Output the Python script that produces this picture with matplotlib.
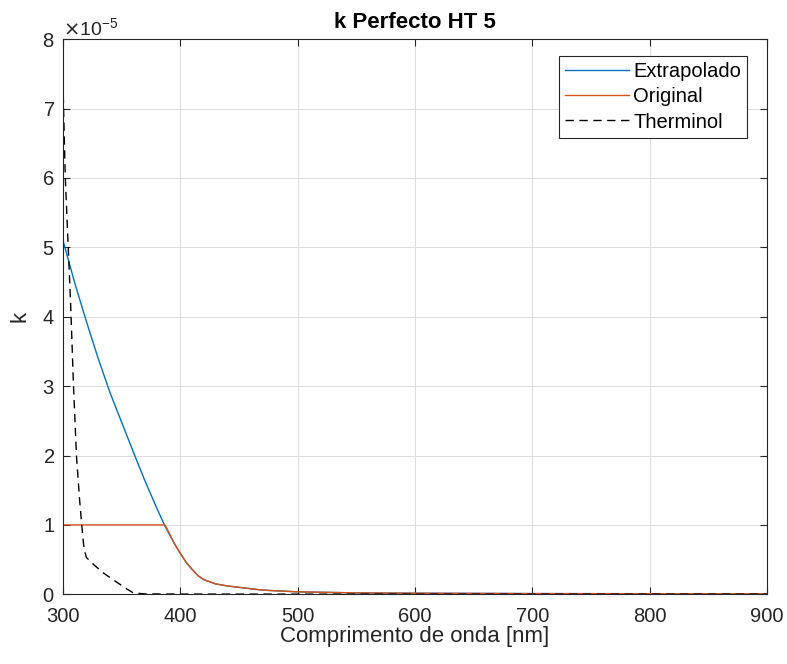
import numpy as np
import matplotlib.pyplot as plt

plt.rcParams['font.family'] = ['Liberation Sans', 'DejaVu Sans']

# wavelength [nm] and k (in units of 1e-5)
wl_ext = [300, 310, 320, 330, 340, 350, 360, 370, 380, 387, 395, 400, 405, 410,
          415, 420, 430, 440, 450, 470, 500, 550, 600, 700, 800, 900]
k_ext = [5.1, 4.49, 3.93, 3.40, 2.91, 2.48, 2.05, 1.63, 1.24, 0.98, 0.73, 0.59,
         0.46, 0.36, 0.27, 0.21, 0.15, 0.12, 0.10, 0.06, 0.035, 0.02, 0.015,
         0.01, 0.008, 0.006]

wl_orig = [300, 387, 395, 400, 405, 410, 415, 420, 430, 440, 450, 470, 500,
           550, 600, 700, 800, 900]
k_orig = [1.0, 1.0, 0.73, 0.59, 0.46, 0.36, 0.27, 0.21, 0.15, 0.12, 0.10,
          0.06, 0.035, 0.02, 0.015, 0.01, 0.008, 0.006]

wl_th = [300, 300.5, 302, 304.5, 306.5, 309, 311.5, 314, 316, 318, 320, 326,
         335, 348, 355, 360, 370, 400, 500, 900]
k_th = [7.4, 7.0, 6.0, 5.0, 4.2, 3.0, 2.0, 1.4, 1.0, 0.65, 0.53, 0.43, 0.30,
        0.15, 0.07, 0.02, 0.005, 0.003, 0.002, 0.002]

scale = 1e-5

fig = plt.figure(figsize=(7.87, 6.64), dpi=100)
ax = fig.add_axes([0.080, 0.105, 0.8945, 0.836])

ax.plot(wl_ext, np.array(k_ext) * scale, color='#0072BD', lw=1.0, label='Extrapolado')
ax.plot(wl_orig, np.array(k_orig) * scale, color='#D95319', lw=1.0, label='Original')
ax.plot(wl_th, np.array(k_th) * scale, color='black', lw=1.0, ls=(0, (6, 4)), label='Therminol')

ax.set_xlim(300, 900)
ax.set_ylim(0, 8e-5)
ax.set_xticks(np.arange(300, 901, 100))
ax.set_yticks(np.arange(0, 8.1, 1) * scale)
ax.ticklabel_format(axis='y', style='sci', scilimits=(0, 0), useMathText=True)
ax.yaxis.get_offset_text().set_fontsize(14)
ax.yaxis.get_offset_text().set_color('#262626')

ax.grid(True, color='#dcdcdc', lw=0.7)
ax.set_axisbelow(True)
ax.tick_params(direction='in', top=True, right=True, labelsize=14.5,
               colors='#262626', length=5, width=0.8)
ax.tick_params(axis='x', pad=9)
ax.tick_params(axis='y', pad=6)
for sp in ax.spines.values():
    sp.set_color('#262626')
    sp.set_linewidth(0.8)

ax.set_title('k Perfecto HT 5', fontsize=16, fontweight='bold', color='#000000', pad=8)
ax.set_xlabel('Comprimento de onda [nm]', fontsize=16, color='#262626', labelpad=0)
ax.set_ylabel('k', fontsize=16, color='#262626', labelpad=8)

leg = ax.legend(loc='upper right', fontsize=14.5, fancybox=False, framealpha=1,
                edgecolor='#262626', handlelength=3.2, borderpad=0.3,
                labelspacing=0.3, handletextpad=0.2, borderaxespad=0,
                bbox_to_anchor=(0.972, 0.969))
leg.get_frame().set_linewidth(0.8)

fig.savefig('out.png', dpi=100)
